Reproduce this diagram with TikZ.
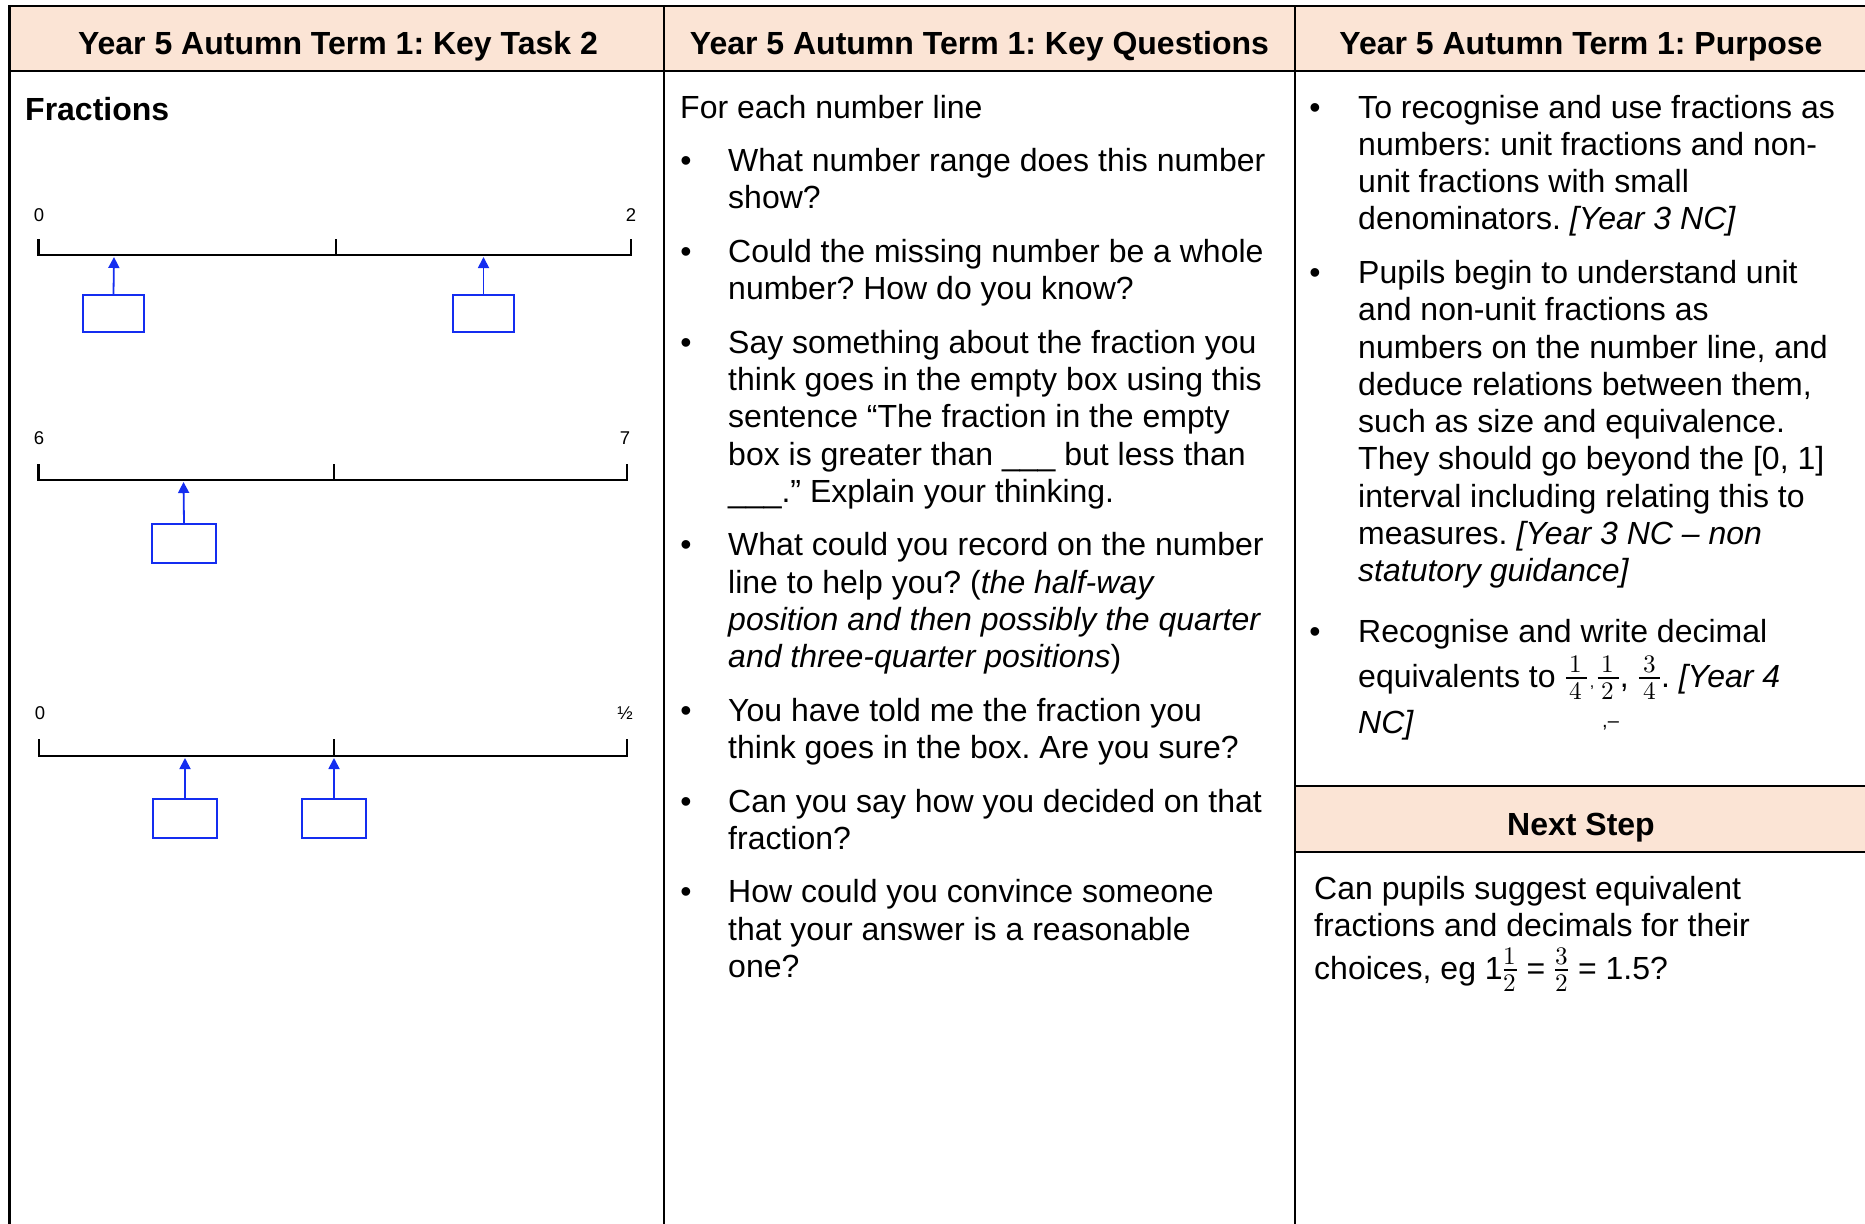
\documentclass[tikz,border=0pt]{standalone}
\usepackage{fontspec}
\usepackage{unicode-math}
\setmainfont{Liberation Sans}
\usetikzlibrary{arrows.meta}
\frenchspacing
\definecolor{hdrfill}{RGB}{251,228,213}
\definecolor{boxblue}{RGB}{20,45,240}
\newcommand\txtline[4]{\node[txt] (#1) at (#2,#3) {#4};}
\newcommand\bul[3]{\node[bulletmark] (#1) at (#2,#3) {\textbullet};}
\newcommand\widefr[2]{{\fontsize{36}{37.3}\selectfont$\frac{\mkern3mu#1\mkern3mu}{\mkern3mu#2\mkern3mu}$}}
\newcommand\narrowfr[2]{{\fontsize{36}{37.3}\selectfont$\frac{#1}{#2}$}}
\begin{document}
\begin{tikzpicture}[x=1pt,y=-1pt,
  grid/.style={line width=2.2pt, line cap=rect},
  hdr/.style={font=\fontsize{32}{37.3}\selectfont\bfseries, anchor=base, inner sep=0pt},
  txt/.style={font=\fontsize{32}{37.3}\selectfont, anchor=base west, inner sep=0pt},
  bulletmark/.style={font=\fontsize{32}{37.3}\selectfont, anchor=base, inner sep=0pt},
  nline/.style={line width=2.2pt},
  lab/.style={font=\fontsize{18.5}{20}\selectfont, anchor=base, inner sep=0pt},
  ansbox/.style={draw=boxblue, line width=2.2pt, minimum width=61pt, minimum height=37pt, inner sep=0pt},
  pointer/.style={draw=boxblue, line width=1.8pt, -{Triangle[length=11pt,width=11pt]}}]
\useasboundingbox (0,0) rectangle (1865,1223);
% header fills
\fill[hdrfill] (9.5,6) rectangle (1865,71);
\fill[hdrfill] (1295,786) rectangle (1865,852);
% grid
\draw[grid] (9.5,1223) -- (9.5,6) -- (1865,6);
\draw[grid] (9.5,71) -- (1865,71);
\draw[grid] (664,6) -- (664,1223);
\draw[grid] (1295,6) -- (1295,1223);
\draw[grid] (1295,786) -- (1865,786);
\draw[grid] (1295,852) -- (1865,852);
% headers
\node[hdr] (h1) at (338,55) {Year 5 Autumn Term 1: Key Task 2};
\node[hdr] (h2) at (979.5,55) {Year 5 Autumn Term 1: Key Questions};
\node[hdr] (h3) at (1581,55) {Year 5 Autumn Term 1: Purpose};
\node[hdr] (h4) at (1581,835.5) {Next Step};
% column 1
\node[hdr, anchor=base west] (frac) at (25,120.7) {Fractions};
% number line 1
\draw[nline] (38.5,239) -- (38.5,255) -- (631,255) -- (631,239);
\draw[nline] (336,255) -- (336,239);
\node[lab] (n1a) at (39,221.5) {0};
\node[lab] (n1b) at (631,221.5) {2};
\coordinate (t1a) at (114,257);
\coordinate (t1b) at (483.5,257);
\node[ansbox] (b1a) at (113.5,313.5) {};
\node[ansbox] (b1b) at (483.5,313.5) {};
\draw[pointer] (b1a.north) -- (t1a);
\draw[pointer] (b1b.north) -- (t1b);
% number line 2
\draw[nline] (38.5,464) -- (38.5,480) -- (627,480) -- (627,464);
\draw[nline] (334,480) -- (334,464);
\node[lab] (n2a) at (39,444.5) {6};
\node[lab] (n2b) at (625,444.5) {7};
\coordinate (t2a) at (183.5,482);
\node[ansbox, minimum width=64pt, minimum height=39pt] (b2a) at (184,543.5) {};
\draw[pointer] (b2a.north) -- (t2a);
% number line 3
\draw[nline] (39,739) -- (39,756) -- (627,756) -- (627,739);
\draw[nline] (334,756) -- (334,739);
\node[lab] (n3a) at (40,719.5) {0};
\node[lab] (n3b) at (625,719.5) {½};
\coordinate (t3a) at (185,758);
\coordinate (t3b) at (334,758);
\node[ansbox, minimum width=64pt, minimum height=39pt] (b3a) at (185,818.5) {};
\node[ansbox, minimum width=64pt, minimum height=39pt] (b3b) at (334,818.5) {};
\draw[pointer] (b3a.north) -- (t3a);
\draw[pointer] (b3b.north) -- (t3b);
% column 2
\txtline{q0}{680}{118}{For each number line}
\bul{qb1}{686}{171.5}
\txtline{q1a}{728}{171.5}{What number range does this number}
\txtline{q1b}{728}{208.8}{show?}
\bul{qb2}{686}{262.3}
\txtline{q2a}{728}{262.3}{Could the missing number be a whole}
\txtline{q2b}{728}{299.6}{number? How do you know?}
\bul{qb3}{686}{353.1}
\txtline{q3a}{728}{353.1}{Say something about the fraction you}
\txtline{q3b}{728}{390.4}{think goes in the empty box using this}
\txtline{q3c}{728}{427.7}{sentence “The fraction in the empty}
\txtline{q3d}{728}{465}{box is greater than \_\_\_ but less than}
\txtline{q3e}{728}{502.3}{\_\_\_.” Explain your thinking.}
\bul{qb4}{686}{555.8}
\txtline{q4a}{728}{555.8}{What could you record on the number}
\txtline{q4b}{728}{593.1}{line to help you? (\textit{the half-way}}
\txtline{q4c}{728}{630.4}{\textit{position and then possibly the quarter}}
\txtline{q4d}{728}{667.7}{\textit{and three-quarter positions})}
\bul{qb5}{686}{721.2}
\txtline{q5a}{728}{721.2}{You have told me the fraction you}
\txtline{q5b}{728}{758.5}{think goes in the box. Are you sure?}
\bul{qb6}{686}{812}
\txtline{q6a}{728}{812}{Can you say how you decided on that}
\txtline{q6b}{728}{849.3}{fraction?}
\bul{qb7}{686}{902.8}
\txtline{q7a}{728}{902.8}{How could you convince someone}
\txtline{q7b}{728}{940.1}{that your answer is a reasonable}
\txtline{q7c}{728}{977.4}{one?}
% column 3
\bul{pb1}{1315}{118}
\txtline{p1a}{1358}{118}{To recognise and use fractions as}
\txtline{p1b}{1358}{155.3}{numbers: unit fractions and non-}
\txtline{p1c}{1358}{192.6}{unit fractions with small}
\txtline{p1d}{1358}{229.9}{denominators. \textit{[Year 3 NC]}}
\bul{pb2}{1315}{283.4}
\txtline{p2a}{1358}{283.4}{Pupils begin to understand unit}
\txtline{p2b}{1358}{320.7}{and non-unit fractions as}
\txtline{p2c}{1358}{358}{numbers on the number line, and}
\txtline{p2d}{1358}{395.3}{deduce relations between them,}
\txtline{p2e}{1358}{432.6}{such as size and equivalence.}
\txtline{p2f}{1358}{469.9}{They should go beyond the [0, 1]}
\txtline{p2g}{1358}{507.2}{interval including relating this to}
\txtline{p2h}{1358}{544.5}{measures. \textit{[Year 3 NC – non}}
\txtline{p2i}{1358}{581.8}{\textit{statutory guidance]}}
\bul{pb3}{1315}{642}
\txtline{p3a}{1358}{642}{Recognise and write decimal}
\txtline{p3b}{1358}{687}{equivalents to \widefr{1}{4}\kern2pt{\fontsize{16}{16}\selectfont ,}\kern2pt\widefr{1}{2}, \widefr{3}{4}. \textit{[Year 4}}
\txtline{p3c}{1358}{733}{\textit{NC]}}
\node[txt, font=\fontsize{20}{20}\selectfont] (stray) at (1602,727) {,–};
% next step
\txtline{s1}{1314}{899}{Can pupils suggest equivalent}
\txtline{s2}{1314}{936}{fractions and decimals for their}
\txtline{s3}{1314}{979}{choices, eg 1\narrowfr{1}{2} = \narrowfr{3}{2} = 1.5?}
\end{tikzpicture}
\end{document}
